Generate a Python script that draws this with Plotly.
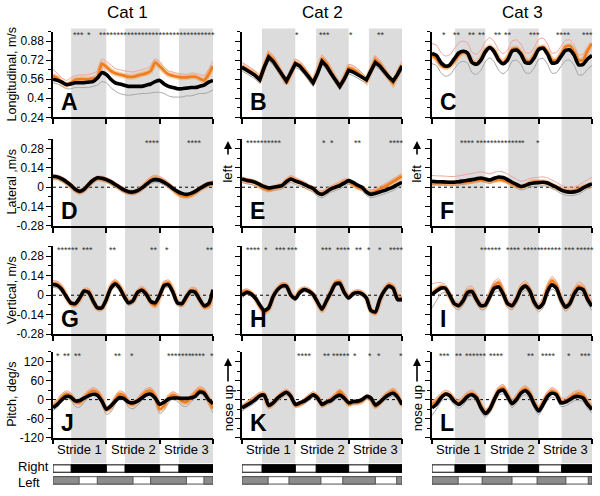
import plotly.graph_objects as go

# ---------------- data ----------------
PHASE = [i / 12 for i in range(37)]   # stride phase, 3 strides

A_black = [0.56,0.55,0.535,0.515,0.52,0.53,0.53,0.53,0.535,0.54,0.57,0.615,0.60, 0.56,0.53,0.52,0.51,0.50,0.50,0.50,0.50,0.51,0.52,0.54,0.55, 0.52,0.50,0.49,0.48,0.48,0.485,0.49,0.49,0.50,0.51,0.535,0.55]
A_orange = [0.59,0.57,0.53,0.51,0.53,0.555,0.56,0.56,0.56,0.565,0.58,0.69,0.665, 0.63,0.61,0.60,0.59,0.58,0.58,0.59,0.60,0.61,0.63,0.70,0.67, 0.63,0.60,0.59,0.58,0.575,0.575,0.58,0.58,0.565,0.55,0.60,0.67]
A_hi = [0.64,0.61,0.57,0.55,0.57,0.59,0.595,0.595,0.60,0.61,0.63,0.73,0.71, 0.68,0.65,0.64,0.63,0.625,0.62,0.63,0.64,0.65,0.67,0.73,0.71, 0.66,0.63,0.62,0.61,0.605,0.60,0.61,0.61,0.60,0.59,0.64,0.71]
A_lo = [0.53,0.52,0.50,0.48,0.48,0.49,0.49,0.49,0.49,0.50,0.51,0.54,0.53, 0.49,0.46,0.44,0.43,0.425,0.43,0.435,0.44,0.44,0.445,0.45,0.45, 0.44,0.42,0.41,0.41,0.41,0.42,0.42,0.43,0.44,0.44,0.45,0.47]

B_black = [0.66,0.64,0.615,0.59,0.555,0.66,0.745,0.71,0.66,0.60,0.545,0.62,0.69, 0.67,0.63,0.58,0.53,0.61,0.71,0.67,0.61,0.55,0.50,0.56,0.635, 0.62,0.60,0.58,0.555,0.63,0.70,0.67,0.62,0.58,0.545,0.60,0.67]
B_orange = [0.67,0.65,0.625,0.60,0.56,0.67,0.765,0.73,0.67,0.60,0.525,0.61,0.70, 0.68,0.64,0.585,0.525,0.62,0.735,0.69,0.62,0.55,0.50,0.57,0.655, 0.645,0.62,0.585,0.545,0.63,0.725,0.69,0.63,0.57,0.525,0.60,0.68]
B_hi = [0.70,0.68,0.655,0.63,0.59,0.70,0.795,0.76,0.70,0.63,0.555,0.64,0.73, 0.71,0.67,0.615,0.555,0.65,0.765,0.72,0.65,0.58,0.53,0.60,0.685, 0.675,0.65,0.615,0.575,0.66,0.755,0.72,0.66,0.60,0.555,0.63,0.71]
B_lo = [0.63,0.61,0.585,0.56,0.525,0.63,0.715,0.68,0.63,0.57,0.515,0.59,0.66, 0.64,0.60,0.55,0.50,0.58,0.68,0.64,0.58,0.52,0.47,0.53,0.605, 0.59,0.57,0.55,0.525,0.60,0.67,0.64,0.59,0.55,0.515,0.57,0.64]

C_black = [0.775,0.76,0.70,0.67,0.68,0.73,0.78,0.795,0.78,0.70,0.685,0.72,0.79, 0.825,0.79,0.72,0.69,0.72,0.795,0.805,0.77,0.70,0.695,0.74,0.81, 0.82,0.77,0.695,0.70,0.75,0.80,0.805,0.76,0.68,0.685,0.73,0.76]
C_orange = [0.76,0.73,0.68,0.66,0.67,0.71,0.76,0.785,0.77,0.71,0.69,0.73,0.80, 0.83,0.80,0.73,0.70,0.74,0.81,0.82,0.78,0.72,0.71,0.76,0.82, 0.83,0.79,0.72,0.72,0.77,0.83,0.84,0.79,0.72,0.72,0.80,0.86]
C_hi = [0.86,0.845,0.785,0.755,0.765,0.815,0.865,0.88,0.865,0.785,0.77,0.805,0.875, 0.91,0.875,0.805,0.775,0.805,0.88,0.89,0.855,0.785,0.78,0.825,0.895, 0.905,0.855,0.78,0.785,0.835,0.885,0.89,0.845,0.765,0.77,0.815,0.845]
C_lo = [0.69,0.675,0.615,0.585,0.595,0.645,0.695,0.71,0.695,0.615,0.60,0.635,0.705, 0.74,0.705,0.635,0.605,0.635,0.71,0.72,0.685,0.615,0.61,0.655,0.725, 0.735,0.685,0.61,0.615,0.665,0.715,0.72,0.675,0.595,0.60,0.645,0.675]

D_black = [0.08,0.075,0.06,0.04,0.015,-0.015,-0.03,-0.015,0.02,0.05,0.068,0.065,0.055, 0.04,0.02,0.0,-0.02,-0.033,-0.035,-0.025,-0.005,0.02,0.045,0.055,0.05, 0.035,0.015,-0.01,-0.03,-0.045,-0.052,-0.045,-0.03,-0.01,0.01,0.025,0.03]
D_orange = [0.07,0.068,0.055,0.035,0.01,-0.02,-0.035,-0.02,0.015,0.045,0.062,0.06,0.05, 0.035,0.015,-0.005,-0.025,-0.038,-0.04,-0.03,-0.005,0.025,0.055,0.068,0.058, 0.04,0.015,-0.015,-0.045,-0.062,-0.068,-0.06,-0.04,-0.015,0.005,0.02,0.025]
D_hi = [0.09,0.088,0.075,0.055,0.03,0.0,-0.015,0.0,0.035,0.065,0.082,0.08,0.07, 0.055,0.035,0.015,-0.005,-0.018,-0.02,-0.01,0.015,0.045,0.075,0.088,0.078, 0.06,0.035,0.005,-0.025,-0.042,-0.048,-0.04,-0.02,0.005,0.025,0.04,0.045]
D_lo = [0.06,0.055,0.04,0.02,-0.005,-0.035,-0.05,-0.035,0.0,0.03,0.048,0.045,0.035, 0.02,0.0,-0.02,-0.04,-0.053,-0.055,-0.045,-0.025,0.0,0.025,0.035,0.03, 0.015,-0.005,-0.03,-0.05,-0.065,-0.072,-0.065,-0.05,-0.03,-0.01,0.005,0.01]

E_black = [0.06,0.05,0.045,0.035,0.02,0.005,-0.005,0.0,0.005,0.012,0.04,0.06,0.045, 0.035,0.02,0.005,-0.01,-0.04,-0.052,-0.035,-0.012,0.0,0.012,0.03,0.048, 0.035,0.015,0.0,-0.035,-0.052,-0.045,-0.035,-0.025,-0.012,0.0,0.02,0.036]
E_orange = [0.055,0.045,0.04,0.03,0.01,-0.01,-0.02,-0.01,0.0,0.01,0.045,0.065,0.05, 0.035,0.02,0.0,-0.015,-0.04,-0.045,-0.03,-0.01,0.005,0.02,0.04,0.04, 0.02,0.0,-0.01,-0.03,-0.04,-0.03,-0.015,0.0,0.02,0.04,0.06,0.08]
E_hi = [0.075,0.065,0.06,0.05,0.03,0.01,0.0,0.01,0.02,0.03,0.065,0.085,0.07, 0.055,0.04,0.02,0.005,-0.02,-0.025,-0.01,0.01,0.025,0.04,0.06,0.06, 0.04,0.02,0.01,-0.01,-0.02,-0.01,0.005,0.02,0.04,0.06,0.08,0.10]
E_lo = [0.035,0.025,0.02,0.01,-0.005,-0.02,-0.03,-0.025,-0.02,-0.013,0.015,0.035,0.02, 0.01,-0.005,-0.02,-0.035,-0.065,-0.077,-0.06,-0.037,-0.025,-0.013,0.005,0.023, 0.01,-0.01,-0.025,-0.06,-0.077,-0.07,-0.06,-0.05,-0.037,-0.025,-0.005,0.011]

F_black = [0.043,0.04,0.04,0.038,0.036,0.036,0.04,0.045,0.05,0.055,0.062,0.067,0.06, 0.052,0.065,0.074,0.07,0.055,0.036,0.02,0.005,0.012,0.025,0.031,0.033, 0.036,0.03,0.015,0.0,-0.02,-0.032,-0.036,-0.034,-0.025,-0.005,0.012,0.024]
F_orange = [0.03,0.03,0.03,0.03,0.03,0.03,0.032,0.035,0.04,0.045,0.05,0.055,0.05, 0.045,0.05,0.055,0.052,0.04,0.025,0.01,0.0,0.01,0.03,0.04,0.04, 0.038,0.03,0.015,0.0,-0.015,-0.025,-0.028,-0.025,-0.015,0.0,0.01,0.02]
F_hi = [0.085,0.083,0.082,0.08,0.078,0.078,0.082,0.088,0.095,0.10,0.107,0.112,0.105, 0.097,0.108,0.115,0.11,0.095,0.075,0.058,0.043,0.05,0.063,0.07,0.072, 0.075,0.068,0.052,0.036,0.016,0.004,0.0,0.003,0.014,0.035,0.055,0.07]
F_lo = [0.018,0.015,0.015,0.013,0.011,0.011,0.015,0.02,0.025,0.03,0.037,0.042,0.035, 0.027,0.04,0.049,0.045,0.03,0.011,-0.005,-0.02,-0.013,0.0,0.006,0.008, 0.011,0.005,-0.01,-0.025,-0.045,-0.057,-0.061,-0.059,-0.05,-0.03,-0.013,-0.001]

G_black = [0.077,0.07,0.04,-0.01,-0.055,-0.06,-0.02,0.03,0.02,-0.04,-0.09,-0.09,-0.03, 0.05,0.08,0.05,-0.01,-0.055,-0.04,0.02,0.035,0.005,-0.045,-0.055,0.0, 0.07,0.075,0.02,-0.055,-0.06,-0.01,0.028,0.02,-0.03,-0.075,-0.06,0.04]
G_orange = [0.085,0.08,0.05,-0.01,-0.06,-0.07,-0.03,0.03,0.03,-0.04,-0.095,-0.095,-0.035, 0.06,0.095,0.06,0.0,-0.05,-0.045,0.02,0.045,0.015,-0.05,-0.075,-0.01, 0.08,0.09,0.03,-0.055,-0.07,-0.02,0.035,0.035,-0.03,-0.085,-0.08,0.02]
G_hi = [0.105,0.10,0.07,0.01,-0.04,-0.05,-0.01,0.05,0.05,-0.02,-0.075,-0.075,-0.015, 0.08,0.115,0.08,0.02,-0.03,-0.025,0.04,0.065,0.035,-0.03,-0.055,0.01, 0.10,0.11,0.05,-0.035,-0.05,0.0,0.055,0.055,-0.01,-0.065,-0.06,0.04]
G_lo = [0.057,0.05,0.02,-0.03,-0.075,-0.08,-0.04,0.01,0.0,-0.06,-0.11,-0.11,-0.05, 0.03,0.06,0.03,-0.03,-0.075,-0.06,0.0,0.015,-0.015,-0.065,-0.075,-0.02, 0.05,0.055,0.0,-0.075,-0.08,-0.03,0.008,0.0,-0.05,-0.095,-0.08,0.02]

H_black = [0.0,0.02,0.01,-0.02,-0.07,-0.11,-0.09,-0.01,0.04,0.065,0.065,0.0,-0.025, 0.02,0.04,0.03,0.005,-0.05,-0.10,-0.04,0.02,0.08,0.085,0.02,-0.02, 0.01,0.02,0.01,-0.02,-0.11,-0.12,-0.03,0.03,0.065,0.05,-0.03,-0.03]
H_orange = [0.02,0.03,0.015,-0.02,-0.08,-0.125,-0.10,-0.01,0.045,0.075,0.07,0.005,-0.02, 0.03,0.045,0.035,0.005,-0.055,-0.11,-0.045,0.025,0.09,0.095,0.025,-0.015, 0.015,0.025,0.015,-0.02,-0.11,-0.13,-0.04,0.035,0.075,0.06,-0.02,-0.025]
H_hi = [0.035,0.045,0.03,-0.005,-0.065,-0.11,-0.085,0.005,0.06,0.09,0.085,0.02,-0.005, 0.045,0.06,0.05,0.02,-0.04,-0.095,-0.03,0.04,0.105,0.11,0.04,0.0, 0.03,0.04,0.03,-0.005,-0.095,-0.115,-0.025,0.05,0.09,0.075,-0.005,-0.01]
H_lo = [-0.015,0.005,-0.005,-0.035,-0.085,-0.125,-0.105,-0.025,0.025,0.05,0.05,-0.015,-0.04, 0.005,0.025,0.015,-0.01,-0.065,-0.115,-0.055,0.005,0.065,0.07,0.005,-0.035, -0.005,0.005,-0.005,-0.035,-0.125,-0.135,-0.045,0.015,0.05,0.035,-0.045,-0.045]

I_black = [0.005,0.03,0.05,0.05,0.0,-0.06,-0.075,-0.04,0.02,0.025,-0.03,-0.075,-0.07, -0.01,0.05,0.06,0.01,-0.06,-0.075,-0.03,0.04,0.065,0.03,-0.05,-0.09, -0.06,0.03,0.075,0.05,-0.03,-0.085,-0.06,0.01,0.05,0.04,-0.03,-0.08]
I_orange = [0.01,0.04,0.06,0.05,-0.005,-0.065,-0.08,-0.04,0.03,0.035,-0.03,-0.08,-0.075, 0.0,0.07,0.09,0.02,-0.065,-0.08,-0.03,0.05,0.075,0.035,-0.055,-0.09, -0.05,0.05,0.105,0.07,-0.03,-0.09,-0.06,0.02,0.065,0.05,-0.02,-0.07]
I_hi = [0.08,0.09,0.09,0.075,0.025,-0.035,-0.05,-0.01,0.06,0.065,0.0,-0.05,-0.045, 0.03,0.10,0.12,0.05,-0.035,-0.05,0.0,0.08,0.105,0.065,-0.025,-0.06, -0.02,0.08,0.135,0.10,0.0,-0.06,-0.03,0.05,0.095,0.08,0.01,-0.04]
I_lo = [-0.09,-0.04,0.01,0.02,-0.03,-0.09,-0.105,-0.07,-0.01,-0.005,-0.06,-0.105,-0.10, -0.04,0.02,0.03,-0.02,-0.09,-0.105,-0.06,0.01,0.035,0.0,-0.08,-0.12, -0.09,0.0,0.045,0.02,-0.06,-0.115,-0.09,-0.02,0.02,0.01,-0.06,-0.11]

J_black = [-26,-15,0,10,8,-4,-3,5,12,17,14,-5,-30, -20,-5,7,3,-8,-10,-5,5,15,17,5,-15, -8,2,5,5,4,4,6,10,24,20,0,-13]
J_orange = [-20,-10,8,18,12,-8,-10,5,20,28,22,0,-33, -25,0,18,12,-10,-15,-5,12,25,28,10,-30, -20,5,15,8,-5,-8,5,20,32,25,0,-28]
J_hi = [-10,0,18,28,22,2,0,15,30,38,32,10,-23, -15,10,28,22,0,-5,5,22,35,38,20,-20, -10,15,25,18,5,2,15,30,42,35,10,-18]
J_lo = [-34,-24,-6,4,-2,-22,-24,-9,6,14,8,-14,-47, -39,-14,4,-2,-24,-29,-19,-2,11,14,-4,-44, -34,-9,1,-6,-19,-22,-9,6,18,11,-14,-42]

K_black = [-26,-18,-10,0,12,14,-18,-10,5,15,23,10,-15, -10,-5,5,15,5,-15,-8,-3,8,14,5,-10, -6,-5,0,10,5,-17,-8,5,15,20,8,-15]
K_orange = [-25,-15,-5,5,15,15,-22,-12,5,18,25,12,-18, -15,-5,8,17,8,-18,-10,0,12,25,10,-15, -10,-10,-5,8,2,-22,-10,8,20,28,12,-18]
K_hi = [-17,-7,3,13,23,23,-14,-4,13,26,33,20,-10, -7,3,16,25,16,-10,-2,8,20,33,18,-7, -2,-2,3,16,10,-14,-2,16,28,36,20,-10]
K_lo = [-35,-27,-19,-9,3,5,-27,-19,-4,6,14,1,-24, -19,-14,-4,6,-4,-24,-17,-12,-1,5,-4,-19, -15,-14,-9,1,-4,-26,-17,-4,6,11,-1,-24]

L_black = [-26,-15,5,17,12,-5,-15,-5,10,15,5,-25,-44, -30,0,25,30,10,-13,0,20,28,15,-15,-36, -15,10,20,15,-10,-8,0,8,10,5,-15,-31]
L_orange = [-15,-5,10,20,15,-3,-10,0,15,20,8,-20,-40, -30,0,30,38,15,-10,5,25,35,20,-12,-30, -10,15,28,20,-5,-5,5,15,20,12,-10,-28]
L_hi = [-5,5,20,30,25,7,0,10,25,30,18,-10,-30, -20,10,40,48,25,0,15,35,45,30,-2,-20, 0,25,38,30,5,5,15,25,30,22,0,-18]
L_lo = [-50,-30,-7,5,0,-17,-27,-17,-2,3,-7,-37,-56, -42,-12,13,18,-2,-25,-12,8,16,3,-27,-48, -27,-2,8,3,-22,-20,-12,-4,-2,-7,-27,-43]

PANELS = ["A", "B", "C", "D", "E", "F", "G", "H", "I", "J", "K", "L"]
SERIES = {
    "A": (A_black, A_orange, A_hi, A_lo), "B": (B_black, B_orange, B_hi, B_lo),
    "C": (C_black, C_orange, C_hi, C_lo), "D": (D_black, D_orange, D_hi, D_lo),
    "E": (E_black, E_orange, E_hi, E_lo), "F": (F_black, F_orange, F_hi, F_lo),
    "G": (G_black, G_orange, G_hi, G_lo), "H": (H_black, H_orange, H_hi, H_lo),
    "I": (I_black, I_orange, I_hi, I_lo), "J": (J_black, J_orange, J_hi, J_lo),
    "K": (K_black, K_orange, K_hi, K_lo), "L": (L_black, L_orange, L_hi, L_lo),
}

# significance asterisks: (stride position, count)
STARS = {
    "A": [(0.48, 3), (0.67, 1), (1.95, 33)],
    "B": [(1.04, 1), (1.55, 3), (2.04, 1), (2.6, 2)],
    "C": [(0.22, 1), (0.47, 2), (0.75, 2), (0.94, 2), (1.23, 2), (1.42, 2), (1.92, 3), (2.46, 4), (2.92, 3)],
    "D": [(1.86, 4), (2.66, 4)],
    "E": [(0.42, 10), (1.53, 1), (1.68, 1), (2.18, 2), (2.9, 4)],
    "F": [(0.67, 4), (1.25, 13), (1.7, 1), (1.99, 1)],
    "G": [(0.28, 6), (0.64, 3), (1.13, 2), (1.9, 2), (2.13, 1), (2.94, 2)],
    "H": [(0.21, 4), (0.45, 1), (0.73, 3), (0.95, 3), (1.58, 3), (1.9, 4), (2.2, 2), (2.38, 1), (2.59, 1), (2.9, 4)],
    "I": [(1.11, 6), (1.52, 4), (1.88, 5), (2.24, 6), (2.57, 3), (2.86, 5)],
    "J": [(0.1, 1), (0.27, 2), (0.46, 2), (1.21, 2), (1.49, 1), (2.28, 4), (2.5, 3), (2.72, 4), (2.99, 1)],
    "K": [(1.18, 4), (1.6, 2), (1.85, 5), (2.12, 1), (2.4, 1), (2.57, 1), (2.99, 1)],
    "L": [(0.23, 3), (0.5, 2), (0.75, 4), (0.95, 2), (1.21, 4), (1.85, 2), (2.18, 4), (2.56, 1), (2.87, 3)],
}

COL_TITLES = ["Cat 1", "Cat 2", "Cat 3"]
ROW_TITLES = ["Longitudinal, m/s", "Lateral ,m/s", "Vertical, m/s", "Pitch, deg/s"]
Y_RANGE = [[0.24, 0.96], [-0.28, 0.35], [-0.28, 0.35], [-120, 150]]
Y_TICKS = [[0.24, 0.4, 0.56, 0.72, 0.88], [-0.28, -0.14, 0, 0.14, 0.28], [-0.28, -0.14, 0, 0.14, 0.28], [-120, -60, 0, 60, 120]]
Y_TICKTEXT = [["0.24", "0.4", "0.56", "0.72", "0.88"], ["-0.28", "-0.14", "0", "0.14", "0.28"],
              ["-0.28", "-0.14", "0", "0.14", "0.28"], ["-120", "-60", "0", "60", "120"]]
Y_MINOR = [[0.32, 0.48, 0.64, 0.8, 0.96], [-0.21, -0.07, 0.07, 0.21, 0.35], [-0.21, -0.07, 0.07, 0.21, 0.35], [-90, -30, 30, 90, 150]]
STRIDE_LABELS = ["Stride 1", "Stride 2", "Stride 3"]
STRIDE_POS = [0.5, 1.5, 2.5]

# gait phases per cat (stride units)
RIGHT_STANCE = [[(0.34, 1.0), (1.35, 2.0), (2.36, 3.0)],
                [(0.375, 1.0), (1.39, 2.0), (2.38, 3.0)],
                [(0.43, 1.0), (1.43, 2.0), (2.43, 3.0)]]
LEFT_STANCE = [[(0.0, 0.49), (0.83, 1.5), (1.83, 2.5), (2.83, 3.0)],
               [(0.0, 0.49), (0.88, 1.48), (1.89, 2.5), (2.9, 3.0)],
               [(0.0, 0.49), (0.94, 1.5), (1.97, 2.51), (2.93, 3.0)]]

# ---------------- style / layout ----------------
W, H = 600, 496
FONT = "Liberation Sans, Arial, sans-serif"
COL_PX = [(53, 213), (242, 402), (432, 592)]
ROW_PX = [(32, 119), (141, 229), (250, 339), (357, 444)]
COL_TITLE_X = [127, 322, 522]
BAND = "#dcdcdc"
ORANGE = "#f07d1c"
ORANGE_HALO = "rgba(244,150,70,0.45)"
PINK = "#f0a09a"
GRAY = "#a3a3a3"


def px(x):
    return x / W


def py(y):
    return 1 - y / H


fig = go.Figure()
layout = dict(width=W, height=H, autosize=False, margin=dict(l=0, r=0, t=0, b=0),
              paper_bgcolor="white", plot_bgcolor="rgba(0,0,0,0)", showlegend=False,
              font=dict(family=FONT, color="black", size=12))
shapes, annotations = [], []

for r in range(4):
    for c in range(3):
        k = r * 3 + c + 1
        xa = "x" if k == 1 else f"x{k}"
        ya = "y" if k == 1 else f"y{k}"
        letter = PANELS[r * 3 + c]
        black, orange, hi, lo = SERIES[letter]
        shp = "linear" if letter == "B" else "spline"
        for ys, color, width in [(lo, GRAY, 1), (hi, PINK, 1), (orange, ORANGE_HALO, 5.5),
                                 (orange, ORANGE, 2.6), (black, "black", 3.6)]:
            fig.add_trace(go.Scatter(x=PHASE, y=ys, mode="lines", xaxis=xa, yaxis=ya,
                                     line=dict(color=color, width=width, shape=shp, smoothing=0.6),
                                     hoverinfo="skip"))
        x0, x1 = COL_PX[c]
        y0, y1 = ROW_PX[r]
        layout["xaxis" if k == 1 else f"xaxis{k}"] = dict(
            domain=[px(x0), px(x1)], range=[0, 3], anchor=ya, showline=True, linecolor="black",
            linewidth=1.5, ticks="outside", ticklen=5, tickwidth=1.5, tickcolor="black",
            tickvals=[0, 1, 2, 3], showticklabels=False, showgrid=False, zeroline=False, fixedrange=True)
        layout["yaxis" if k == 1 else f"yaxis{k}"] = dict(
            domain=[py(y1), py(y0)], range=Y_RANGE[r], anchor=xa, showline=True, linecolor="black",
            linewidth=1.5, ticks="outside", ticklen=5, tickwidth=1.2, tickcolor="black",
            tickvals=Y_TICKS[r], ticktext=Y_TICKTEXT[r], showticklabels=(c == 0),
            tickfont=dict(size=12, family=FONT), showgrid=False, zeroline=False, fixedrange=True,
            minor=dict(tickvals=Y_MINOR[r], ticks="outside", ticklen=3, tickwidth=1, tickcolor="black", showgrid=False))
        if r >= 1:
            shapes.append(dict(type="line", xref=xa, yref=ya, x0=0, x1=3, y0=0, y1=0,
                               line=dict(color="black", width=1, dash="dot"), layer="below"))
        annotations.append(dict(text=f"<b>{letter}</b>", xref=f"{xa} domain", yref=f"{ya} domain",
                                x=0.035, y=0.0, xanchor="left", yanchor="bottom", showarrow=False,
                                font=dict(size=23, family=FONT, color="black")))
        for pos, n in STARS[letter]:
            annotations.append(dict(text="*" * n, xref=xa, yref="paper", x=pos, y=py(y0 + 4),
                                    xanchor="center", yanchor="middle", showarrow=False,
                                    font=dict(size=9, family=FONT, color="#333333")))

for c in range(3):
    xa = f"x{10 + c}"
    for s, e in RIGHT_STANCE[c]:
        shapes.append(dict(type="rect", xref=xa, yref="paper", x0=s, x1=e, y0=py(470), y1=py(29),
                           fillcolor=BAND, line=dict(width=0), layer="below"))
    shapes.append(dict(type="rect", xref=xa, yref="paper", x0=0, x1=3, y0=py(479), y1=py(471.5),
                       fillcolor="white", line=dict(color="black", width=1)))
    for s, e in RIGHT_STANCE[c]:
        shapes.append(dict(type="rect", xref=xa, yref="paper", x0=s, x1=e, y0=py(479), y1=py(471.5),
                           fillcolor="black", line=dict(color="black", width=1)))
    shapes.append(dict(type="rect", xref=xa, yref="paper", x0=0, x1=3, y0=py(491), y1=py(483.5),
                       fillcolor="white", line=dict(color="#505050", width=1)))
    for s, e in LEFT_STANCE[c]:
        shapes.append(dict(type="rect", xref=xa, yref="paper", x0=s, x1=e, y0=py(491), y1=py(483.5),
                           fillcolor="#8c8c8c", line=dict(color="#505050", width=1)))
    for pos, lab in zip(STRIDE_POS, STRIDE_LABELS):
        annotations.append(dict(text=lab, xref=xa, yref="paper", x=pos, y=py(456), xanchor="center",
                                yanchor="middle", showarrow=False, font=dict(size=13, family=FONT)))
    annotations.append(dict(text=COL_TITLES[c], xref="paper", yref="paper", x=px(COL_TITLE_X[c]),
                            y=py(13), xanchor="center", yanchor="middle", showarrow=False,
                            font=dict(size=17, family=FONT)))

for r in range(4):
    y0, y1 = ROW_PX[r]
    annotations.append(dict(text=ROW_TITLES[r], xref="paper", yref="paper", x=px(12), y=py((y0 + y1) / 2),
                            textangle=-90, xanchor="center", yanchor="middle", showarrow=False,
                            font=dict(size=12.5, family=FONT)))

for xpix in (228, 417):
    annotations.append(dict(text="left", xref="paper", yref="paper", x=px(xpix), y=py(176),
                            xanchor="center", yanchor="middle",
                            textangle=-90, showarrow=False, font=dict(size=13, family=FONT)))
    annotations.append(dict(text="", xref="paper", yref="paper", x=px(xpix), y=py(143), ax=0, ay=15,
                            showarrow=True, arrowhead=2, arrowsize=1, arrowwidth=1.6, arrowcolor="black"))
    annotations.append(dict(text="nose up", xref="paper", yref="paper", x=px(xpix), y=py(414),
                            xanchor="center", yanchor="middle",
                            textangle=-90, showarrow=False, font=dict(size=13, family=FONT)))
    annotations.append(dict(text="", xref="paper", yref="paper", x=px(xpix), y=py(363), ax=0, ay=25,
                            showarrow=True, arrowhead=2, arrowsize=1, arrowwidth=1.6, arrowcolor="black"))

annotations.append(dict(text="Right", xref="paper", yref="paper", x=px(16), y=py(473.5), xanchor="left",
                        yanchor="middle", showarrow=False, font=dict(size=13, family=FONT)))
annotations.append(dict(text="Left", xref="paper", yref="paper", x=px(16), y=py(489), xanchor="left",
                        yanchor="middle", showarrow=False, font=dict(size=13, family=FONT)))

layout["shapes"] = shapes
layout["annotations"] = annotations
fig.update_layout(**layout)
fig.write_html("out.html", config={"displayModeBar": False},
               post_script="document.body.style.margin='0px';document.body.style.overflow='hidden';")
